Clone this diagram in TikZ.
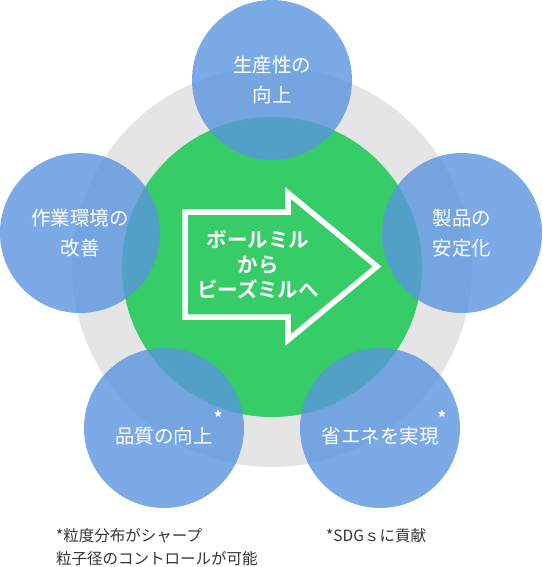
\documentclass[tikz,border=0pt]{standalone}
\usepackage{fontspec}
\setmainfont{Noto Sans CJK JP}[BoldFont={Noto Sans CJK JP Bold}]

\definecolor{ringgrey}{RGB}{229,229,229}
\definecolor{coregreen}{RGB}{54,204,104}
\definecolor{goalblue}{RGB}{90,149,224}
\definecolor{notegrey}{RGB}{51,51,51}

\begin{document}
\begin{tikzpicture}[x=1pt,y=-1pt,
		goal/.style={circle, fill=goalblue, fill opacity=0.8, text opacity=1,
			text=white, minimum size=160pt, inner sep=0pt, align=center,
			font=\fontsize{19.5}{30}\selectfont},
		note/.style={anchor=west, text=notegrey, align=left, inner sep=0pt,
			font=\fontsize{15.5}{22.6}\selectfont}]
		\useasboundingbox (0,0) rectangle (542,567);
		
		% Draw the grey ring and the green core
		\fill[ringgrey] (272,267) circle[radius=200];
		\fill[coregreen] (272,267) circle[radius=150];
		
		% Draw the arrow
		\draw[white, line width=5.5pt, line join=miter]
			(185,212) -- (288,212) -- (288,193) -- (377,266.5)
			-- (288,340) -- (288,317) -- (185,317) -- cycle;
		\node[text=white, align=center, inner sep=0pt,
			font=\fontsize{20.5}{25}\bfseries\selectfont] (core) at (258,265)
			{ボールミル\\から\\ビーズミルへ};
		
		% Add goals
		\node[goal] (prod) at (272,80) {生産性の\\向上};
		\node[goal] (env) at (80,233) {作業環境の\\改善};
		\node[goal] (stab) at (462,233) {製品の\\安定化};
		\node[goal] (qual) at (164,428)
			{品質の向上\rlap{\hspace{1pt}\raisebox{19pt}{\fontsize{17}{17}\bfseries\selectfont *}}};
		\node[goal] (save) at (380,428)
			{省エネを実現\rlap{\hspace{-1pt}\raisebox{19pt}{\fontsize{17}{17}\bfseries\selectfont *}}};
		
		% Add notes
		\node[note] (qualnote) at (56,547) {*粒度分布がシャープ\\粒子径のコントロールが可能};
		\node[note] (savenote) at (326,536) {*SDGｓに貢献};
	\end{tikzpicture}
\end{document}
